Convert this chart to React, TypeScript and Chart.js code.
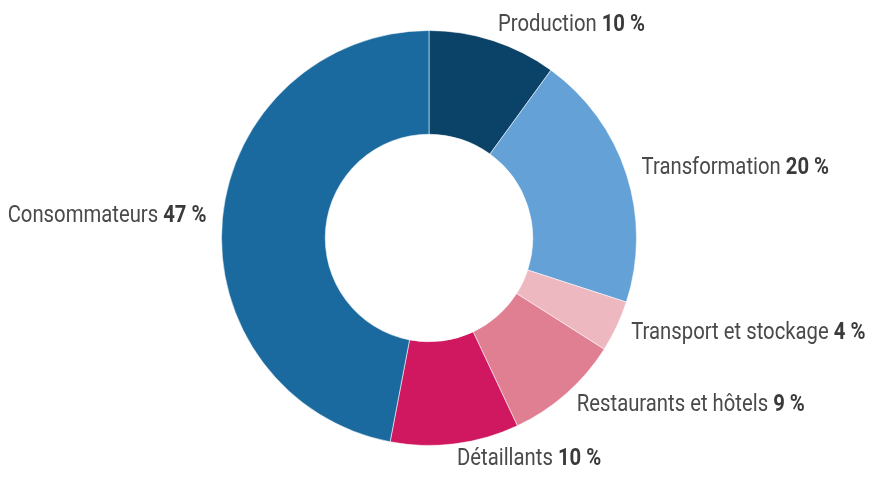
import React, { useEffect, useRef } from "react";
import { Chart, registerables } from "chart.js";

Chart.register(...registerables);

const categories = [
  "Production",
  "Transformation",
  "Transport et stockage",
  "Restaurants et hôtels",
  "Détaillants",
  "Consommateurs",
];
const values = [10, 20, 4, 9, 10, 47];
const colors = ["#0b4267", "#64a1d7", "#edb8bf", "#e07e92", "#cf185f", "#1b6a9f"];

const FONT_SIZE = 24;
const SCALE_X = 0.845;
const FAMILY = "Roboto, 'Liberation Sans', sans-serif";

const labelPlugin = {
  id: "outerLabels",
  afterDatasetsDraw(chart: any) {
    const ctx = chart.ctx as CanvasRenderingContext2D;
    const meta = chart.getDatasetMeta(0);
    meta.data.forEach((arc: any, i: number) => {
      const { x, y, startAngle, endAngle, outerRadius } = arc.getProps(
        ["x", "y", "startAngle", "endAngle", "outerRadius"],
        true
      );
      const mid = (startAngle + endAngle) / 2;
      const R = outerRadius + 16;
      const lx = x + Math.cos(mid) * R;
      const ly = y + Math.sin(mid) * R - 3;
      const name = categories[i] + " ";
      const val = values[i] + " %";
      ctx.save();
      ctx.font = `400 ${FONT_SIZE}px ${FAMILY}`;
      const w1 = ctx.measureText(name).width;
      ctx.font = `700 ${FONT_SIZE}px ${FAMILY}`;
      const w2 = ctx.measureText(val).width;
      const total = (w1 + w2) * SCALE_X;
      const right = Math.cos(mid) >= 0;
      const startX = right ? lx : lx - total;
      ctx.translate(startX, ly + FONT_SIZE * 0.355);
      ctx.scale(SCALE_X, 1);
      ctx.textBaseline = "alphabetic";
      ctx.textAlign = "left";
      ctx.fillStyle = "#4a4a4a";
      ctx.font = `400 ${FONT_SIZE}px ${FAMILY}`;
      ctx.fillText(name, 0, 0);
      ctx.fillStyle = "#3a3a3a";
      ctx.font = `700 ${FONT_SIZE}px ${FAMILY}`;
      ctx.fillText(val, w1, 0);
      ctx.restore();
    });
  },
};

export default function App() {
  const ref = useRef<HTMLCanvasElement>(null);
  useEffect(() => {
    if (!ref.current) return;
    const chart = new Chart(ref.current, {
      type: "doughnut",
      data: {
        labels: categories,
        datasets: [
          {
            data: values,
            backgroundColor: colors,
            borderColor: "rgba(255,255,255,0.55)",
            borderWidth: 1,
          },
        ],
      },
      options: {
        responsive: false,
        animation: false,
        devicePixelRatio: 1,
        cutout: "50%",
        layout: { padding: { top: 30, bottom: 33, left: 0, right: 12 } },
        plugins: {
          legend: { display: false },
          tooltip: { enabled: false },
        },
      },
      plugins: [labelPlugin],
    });
    return () => chart.destroy();
  }, []);
  return (
    <div style={{ position: "absolute", left: 0, top: 0, width: 870, height: 479, background: "#fff" }}>
      <canvas ref={ref} width={870} height={479} />
    </div>
  );
}
